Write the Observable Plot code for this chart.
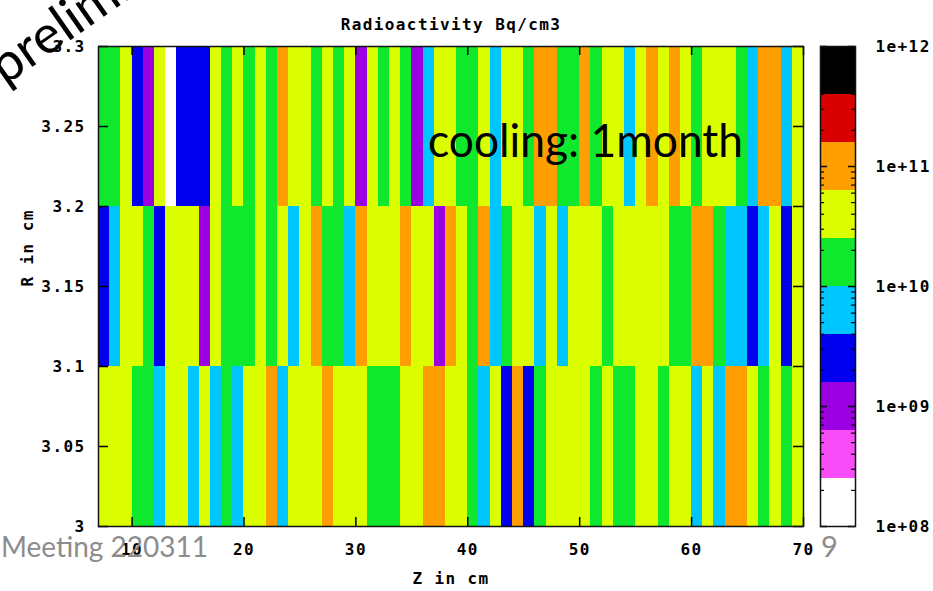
<!DOCTYPE html>
<html>
<head>
<meta charset="utf-8">
<script src="https://cdn.jsdelivr.net/npm/d3@7"></script>
<script src="https://cdn.jsdelivr.net/npm/@observablehq/plot@0.6"></script>
<style>
  html, body { margin: 0; padding: 0; background: #fff; }
  #wrap { position: relative; width: 933px; height: 591px; overflow: hidden; background: #fff; }
  #wrap > svg { position: absolute; }
</style>
</head>
<body>
<div id="wrap"></div>
<script>
// ---- data ----
// left edge of each Z cell (cm); each cell is 1 cm wide
const zStart = [7,8,9,10,11,12,13,14,15,16,17,18,19,20,21,22,23,24,25,26,27,28,29,30,31,32,33,34,35,36,37,38,39,40,41,42,43,44,45,46,47,48,49,50,51,52,53,54,55,56,57,58,59,60,61,62,63,64,65,66,67,68,69];
const zWidth = 1;
// R bins (cm)
const rLow  = [3.0, 3.1, 3.2];
const rHigh = [3.1, 3.2, 3.3];
// activity (Bq/cm3) per Z cell, one array per R bin
const activityR300 = [4e10,4e10,4e10,1.6e10,1.6e10,6.3e9,4e10,4e10,6.3e9,4e10,
  6.3e9,1.6e10,6.3e9,4e10,4e10,1e11,6.3e9,4e10,4e10,4e10,
  1e11,4e10,4e10,4e10,1.6e10,1.6e10,1.6e10,4e10,4e10,1e11,
  1e11,4e10,4e10,1.6e10,6.3e9,4e10,2.5e9,1e11,2.5e9,1.6e10,
  4e10,4e10,4e10,4e10,1.6e10,4e10,1.6e10,1.6e10,4e10,4e10,
  1.6e10,4e10,4e10,6.3e9,4e10,6.3e9,1e11,1e11,4e10,1.6e10,
  4e10,1.6e10,4e10];
const activityR310 = [2.5e9,6.3e9,4e10,4e10,1.6e10,2.5e9,4e10,4e10,4e10,1e9,
  4e10,1.6e10,1.6e10,1.6e10,4e10,1.6e10,4e10,6.3e9,4e10,1e11,
  1.6e10,1.6e10,6.3e9,1e11,4e10,4e10,4e10,1e11,4e10,4e10,
  1e9,1e11,4e10,1.6e10,1e11,6.3e9,1.6e10,4e10,4e10,6.3e9,
  4e10,6.3e9,4e10,4e10,4e10,1.6e10,4e10,4e10,4e10,4e10,
  4e10,1.6e10,1.6e10,1e11,1e11,1.6e10,6.3e9,6.3e9,2.5e9,6.3e9,
  4e10,2.5e9,4e10];
const activityR320 = [1.6e10,1.6e10,4e10,2.5e9,1e9,4e10,1.6e8,2.5e9,2.5e9,2.5e9,
  4e10,1.6e10,4e10,1.6e10,4e10,1.6e10,1e11,4e10,4e10,1.6e10,
  4e10,1.6e10,4e10,1e9,4e10,1.6e10,4e10,1.6e10,1e9,6.3e9,
  4e10,4e10,1.6e10,1.6e10,4e10,6.3e9,4e10,4e10,1.6e10,1e11,
  1e11,1.6e10,1.6e10,1e11,1.6e10,4e10,4e10,6.3e9,4e10,1e11,
  4e10,1e11,4e10,1.6e10,4e10,4e10,4e10,1.6e10,6.3e9,1e11,
  1e11,6.3e9,4e10];

// colour bands of the palette (log-spaced, 0.4 decade each)
const bandEdges = [1e8, 2.512e8, 6.310e8, 1.585e9, 3.981e9, 1e10, 2.512e10, 6.310e10, 1.585e11, 3.981e11, 1e12];
const bandColors = ["#ffffff","#f94cf9","#9b00e3","#0000ee","#00c6ff","#0fe82c","#dcff00","#ff9e00","#d80000","#000000"];

// tick values and labels
const xTicks = [10,20,30,40,50,60,70];
const yTicks = [3,3.05,3.1,3.15,3.2,3.25,3.3];
const cbTicks = [1e8,1e9,1e10,1e11,1e12];
const cbTickLabels = ["1e+08","1e+09","1e+10","1e+11","1e+12"];

// ---- build tables ----
const rows = [activityR300, activityR310, activityR320];
const cells = [];
rows.forEach((vals, j) => {
  vals.forEach((v, i) => {
    cells.push({z0: zStart[i], z1: zStart[i] + zWidth, r0: rLow[j], r1: rHigh[j], v});
  });
});
const bands = bandColors.map((c, k) => ({lo: bandEdges[k], hi: bandEdges[k + 1], mid: Math.sqrt(bandEdges[k] * bandEdges[k + 1])}));
const colorOpts = {type: "threshold", domain: bandEdges.slice(1, -1), range: bandColors};

const mono = "'DejaVu Sans Mono', monospace";
const monoStyle = {fontFamily: mono, fontSize: "16px", fontWeight: "bold", letterSpacing: "1.4px", color: "#000", background: "transparent"};

const W = 933, H = 591, mL = 98, mR = 130, mT = 46, mB = 65;
const innerW = W - mL - mR, innerH = H - mT - mB;

const main = Plot.plot({
  width: W, height: H,
  marginLeft: mL, marginRight: mR, marginTop: mT, marginBottom: mB,
  x: {domain: [7, 70], axis: null},
  y: {domain: [3, 3.3], axis: null},
  color: colorOpts,
  style: monoStyle,
  marks: [
    Plot.rect(cells, {x1: "z0", x2: "z1", y1: "r0", y2: "r1", fill: "v", shapeRendering: "crispEdges"}),
    // inward ticks, gnuplot style, on all four sides
    Plot.tickY(yTicks, {y: d => d, insetRight: innerW - 10, stroke: "#000", strokeWidth: 1.5}),
    Plot.tickY(yTicks, {y: d => d, insetLeft: innerW - 10, stroke: "#000", strokeWidth: 1.5}),
    Plot.tickX(xTicks, {x: d => d, insetTop: innerH - 9, stroke: "#000", strokeWidth: 1.5}),
    Plot.tickX(xTicks, {x: d => d, insetBottom: innerH - 9, stroke: "#000", strokeWidth: 1.5}),
    Plot.frame({stroke: "#111", strokeWidth: 1.5}),
    Plot.text(yTicks, {y: d => d, frameAnchor: "left", dx: -13, textAnchor: "end", text: d => String(d)}),
    Plot.text(xTicks, {x: d => d, frameAnchor: "bottom", dy: 28, text: d => String(d)}),
    Plot.text(["Radioactivity Bq/cm3"], {frameAnchor: "top", dy: -28}),
    Plot.text(["R in cm"], {frameAnchor: "left", dx: -71, rotate: -90}),
    Plot.text(["Z in cm"], {frameAnchor: "bottom", dy: 57})
  ]
});
main.style.left = "0px";
main.style.top = "0px";

const minorTicks = d3.scaleLog().domain([1e8, 1e12]).ticks().filter(t => !cbTicks.some(m => Math.abs(m - t) / t < 1e-6));
const cbW = 115, cbL = 2, cbR = 78, cbInner = cbW - cbL - cbR;
const colorbar = Plot.plot({
  width: cbW, height: H,
  marginLeft: cbL, marginRight: cbR, marginTop: mT, marginBottom: mB,
  x: {domain: [0, 1], axis: null},
  y: {type: "log", domain: [1e8, 1e12], axis: null},
  color: colorOpts,
  style: monoStyle,
  marks: [
    Plot.rect(bands, {x1: 0, x2: 1, y1: "lo", y2: "hi", fill: "mid", shapeRendering: "crispEdges"}),
    Plot.tickY(minorTicks, {y: d => d, insetRight: cbInner - 4, stroke: "#000", strokeWidth: 1.2}),
    Plot.tickY(minorTicks, {y: d => d, insetLeft: cbInner - 4, stroke: "#000", strokeWidth: 1.2}),
    Plot.tickY(cbTicks, {y: d => d, insetRight: cbInner - 7, stroke: "#000", strokeWidth: 1.5}),
    Plot.tickY(cbTicks, {y: d => d, insetLeft: cbInner - 7, stroke: "#000", strokeWidth: 1.5}),
    Plot.frame({stroke: "#111", strokeWidth: 1.5}),
    Plot.text(cbTicks, {y: d => d, frameAnchor: "right", dx: 20, textAnchor: "start", text: (d, i) => cbTickLabels[i]})
  ]
});
colorbar.style.left = (820 - cbL) + "px";
colorbar.style.top = "0px";

const wrap = document.getElementById("wrap");
wrap.appendChild(main);
wrap.appendChild(colorbar);

// slide annotations drawn over the chart
const ns = "http://www.w3.org/2000/svg";
const over = document.createElementNS(ns, "svg");
over.setAttribute("width", W);
over.setAttribute("height", H);
over.style.left = "0px";
over.style.top = "0px";
over.style.pointerEvents = "none";
function addText(str, attrs) {
  const t = document.createElementNS(ns, "text");
  for (const k in attrs) t.setAttribute(k, attrs[k]);
  t.textContent = str;
  over.appendChild(t);
}
const sans = "Lato, 'Open Sans', sans-serif";
addText("preliminary", {transform: "translate(5,86) rotate(-35)", "font-family": sans, "font-size": 53, fill: "#000"});
addText("cooling: 1month", {x: 428, y: 157, "font-family": sans, "font-size": 46, fill: "#000", textLength: 315, lengthAdjust: "spacingAndGlyphs"});
addText("Meeting 220311", {x: 1, y: 557, "font-family": sans, "font-size": 29, fill: "#8c8c8c", textLength: 207, lengthAdjust: "spacingAndGlyphs"});
addText("9", {x: 821, y: 557, "font-family": sans, "font-size": 29, fill: "#8c8c8c"});
wrap.appendChild(over);
</script>
</body>
</html>
